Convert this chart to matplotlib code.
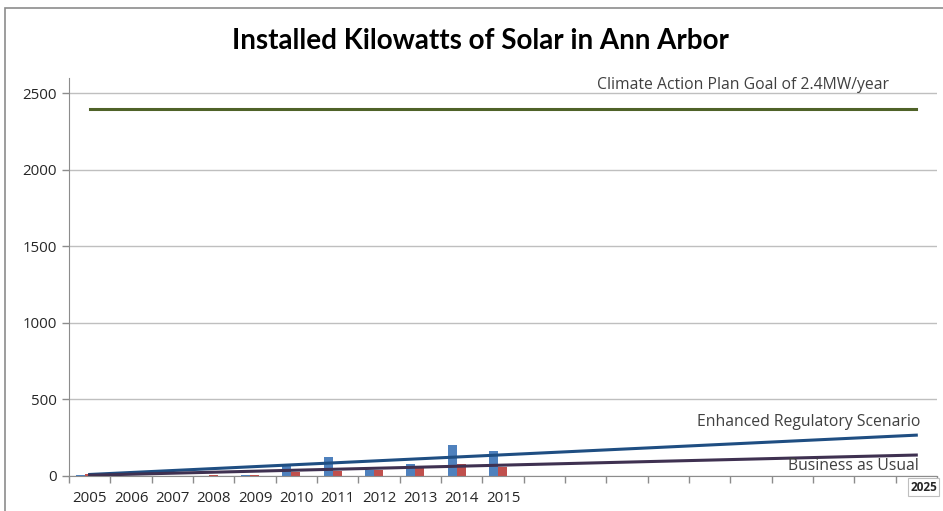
import matplotlib
matplotlib.use("Agg")
import matplotlib.pyplot as plt
import matplotlib.patches as patches
import numpy as np

# yearly installs (kW) and scenario end points
years = [str(y) for y in range(2005, 2026)]
labeled_years = years[:11]
installed_a = [5, 2, 1, 3, 8, 72, 126, 40, 81, 202, 165]
installed_b = [10, 3, 2, 8, 8, 28, 35, 38, 50, 78, 61]
goal_kw = [2400, 2400]
enhanced_kw = [10, 267]
business_kw = [5, 137]

plt.rcParams['font.family'] = ['Open Sans', 'DejaVu Sans']

fig = plt.figure(figsize=(9.43, 5.11), dpi=100)
ax = fig.add_axes([0.0732, 0.0685, 0.9204, 0.7785])

# outer chart frame
fig.patches.append(patches.Rectangle(
	(5 / 943, -0.1), 1.2, 1 - 8 / 511 + 0.1, transform=fig.transFigure,
	fill=False, edgecolor='#8c8c8c', linewidth=1.2))

x = np.arange(len(labeled_years))
w = 0.22
shift = -0.12
ax.bar(x + shift - w / 2, installed_a, w, color='#4f81bd', zorder=2)
ax.bar(x + shift + w / 2, installed_b, w, color='#c0504d', zorder=2)

ends = [0, len(years) - 1]
ax.plot(ends, goal_kw, color='#4f6228', linewidth=2.2, zorder=3)
ax.plot(ends, enhanced_kw, color='#1f4e82', linewidth=2.2, zorder=3)
ax.plot(ends, business_kw, color='#3f3151', linewidth=2.2, zorder=3)

ax.set_xlim(-0.5, len(years) - 0.5)
ax.set_ylim(0, 2600)
ax.set_yticks(range(0, 2501, 500))
ax.yaxis.grid(True, color='#bfbfbf', linewidth=1, zorder=0)
ax.set_axisbelow(True)

# category boundaries carry the tick marks, labels sit between them
ax.set_xticks(np.arange(len(years) + 1) - 0.5)
ax.set_xticklabels([])
ax.set_xticks(x, labeled_years, minor=True)
ax.tick_params(axis='x', which='minor', length=0, pad=11, labelsize=10.8,
	labelcolor='#262626')
ax.tick_params(axis='x', which='major', length=5, width=1, color='#8c8c8c',
	direction='out')
ax.tick_params(axis='y', length=5, width=1, color='#8c8c8c', labelsize=10.8,
	labelcolor='#262626', pad=4)

for side in ['top', 'right']:
	ax.spines[side].set_visible(False)
for side in ['left', 'bottom']:
	ax.spines[side].set_color('#8c8c8c')

ax.text(len(years) - 0.5, -30, years[-1], ha='right', va='top', fontsize=8.5,
	color='#262626', fontweight='bold',
	bbox=dict(facecolor='white', edgecolor='#bfbfbf', pad=1.5, linewidth=0.8))

ax.text(15.8, 2505, 'Climate Action Plan Goal of 2.4MW/year', ha='center',
	va='bottom', fontsize=11.3, color='#404040')
ax.text(20.1, 300, 'Enhanced Regulatory Scenario', ha='right', va='bottom',
	fontsize=11.3, color='#404040')
ax.text(20.05, 15, 'Business as Usual', ha='right', va='bottom',
	fontsize=11.3, color='#404040')

fig.text(0.51, 0.92, 'Installed Kilowatts of Solar in Ann Arbor', ha='center',
	va='center', fontsize=20, fontweight='bold', family=['Lato', 'DejaVu Sans'])

fig.savefig('out.png', dpi=100)
